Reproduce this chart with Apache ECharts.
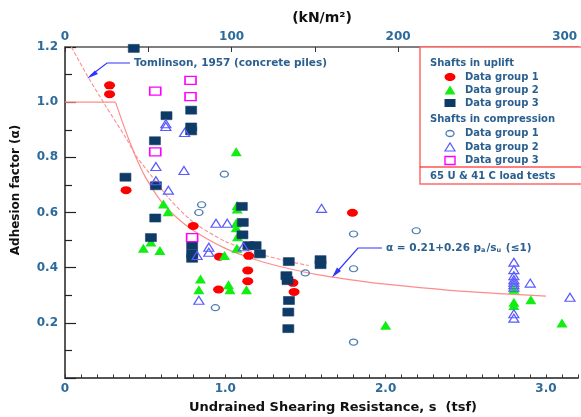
<!DOCTYPE html>
<html>
<head>
<meta charset="utf-8">
<script src="https://cdn.jsdelivr.net/npm/echarts@6/dist/echarts.min.js"></script>
<style>html,body{margin:0;padding:0;background:#fff}#c{width:581px;height:417px}</style>
</head>
<body>
<div id="c"></div>
<script>
// ---- data (s in tsf, alpha) ----
const upliftG1 = [[0.278,1.061],[0.278,1.029],[0.381,0.681],[0.80,0.551],[0.963,0.44],[1.146,0.443],[1.14,0.39],[1.14,0.351],[0.958,0.321],[1.422,0.345],[1.429,0.312],[1.793,0.599]];
const upliftG2 = [[1.068,0.82],[0.614,0.631],[0.643,0.603],[0.536,0.493],[0.489,0.47],[0.592,0.462],[1.074,0.625],[1.074,0.613],[1.068,0.562],[1.068,0.545],[1.076,0.512],[1.072,0.47],[0.995,0.444],[0.845,0.359],[0.835,0.32],[1.02,0.338],[1.029,0.32],[1.132,0.32],[2.8,0.322],[2.8,0.275],[2.8,0.263],[2.906,0.284],[2.0,0.191],[3.10,0.199]];
const upliftG3 = [[0.429,1.195],[0.633,0.951],[0.787,0.971],[0.787,0.91],[0.787,0.896],[0.561,0.86],[0.377,0.728],[0.567,0.697],[0.563,0.58],[0.536,0.509],[0.793,0.48],[0.793,0.45],[0.793,0.434],[1.103,0.622],[1.109,0.564],[1.107,0.519],[1.144,0.48],[1.189,0.48],[1.216,0.45],[1.396,0.422],[1.594,0.429],[1.594,0.411],[1.381,0.371],[1.388,0.353],[1.397,0.281],[1.393,0.239],[1.393,0.179]];
const compG1 = [[0.994,0.739],[0.852,0.628],[0.835,0.60],[0.938,0.255],[1.499,0.381],[1.80,0.522],[2.191,0.534],[1.80,0.396],[1.80,0.13]];
const compG2 = [[0.629,0.922],[0.629,0.912],[0.746,0.89],[0.567,0.767],[0.742,0.752],[0.567,0.715],[0.645,0.681],[0.942,0.561],[1.012,0.561],[0.897,0.474],[0.897,0.456],[0.824,0.444],[1.113,0.476],[0.835,0.282],[1.60,0.615],[2.8,0.42],[2.8,0.393],[2.8,0.371],[2.8,0.356],[2.8,0.347],[2.8,0.338],[2.8,0.329],[2.8,0.233],[2.8,0.217],[2.902,0.344],[3.15,0.293]];
const compG3 = [[0.783,1.079],[0.563,1.04],[0.783,1.02],[0.563,0.82],[0.793,0.509]];
// curves
const equationCap = [[0,1.0],[0.315,1.0]];
const equationCurve = [[0.315,1.0],[0.36,0.925],[0.40,0.862],[0.45,0.79],[0.5,0.73],[0.6,0.64],[0.7,0.58],[0.8,0.535],[1.0,0.47],[1.2,0.427],[1.4,0.396],[1.6,0.372],[1.8,0.355],[2.0,0.34],[2.4,0.318],[2.8,0.303],[3.0,0.297]];
const tomlinsonCurve = [[0.04,1.2],[0.14,1.095],[0.25,0.99],[0.38,0.87],[0.45,0.8],[0.53,0.74],[0.65,0.65],[0.8,0.565],[1.0,0.495],[1.2,0.452],[1.4,0.422],[1.52,0.408]];
const bottomTicks = {min:0, max:3.2, step:0.1};
const topTicks = {min:0, max:308, step:50};
const yTicks = {min:0, max:1.2, step:0.2};
const legendItems = ['Data group 1','Data group 2','Data group 3'];

const LBL = '#2b6a9b';
const TXT = '#2a5f8f';
const FONT = 'DejaVu Sans';

const chart = echarts.init(document.getElementById('c'), null, {renderer:'canvas'});

function scatter(name, data, symbol, size, style){
  return {type:'scatter', name, data, symbol, symbolSize:size, itemStyle:Object.assign({opacity:1}, style), z:5, silent:true};
}

const legendX = 450, legendTextX = 465;
function legendMarker(kind, y){
  if(kind==='c1') return {type:'ellipse', shape:{cx:legendX, cy:y, rx:5.5, ry:4}, style:{fill:'#ff0000'}};
  if(kind==='t1') return {type:'polygon', shape:{points:[[legendX-5.5,y+4.5],[legendX+5.5,y+4.5],[legendX,y-4.5]]}, style:{fill:'#11ee11'}};
  if(kind==='s1') return {type:'rect', shape:{x:legendX-5.5, y:y-4, width:11, height:8}, style:{fill:'#0e3a66'}};
  if(kind==='c2') return {type:'ellipse', shape:{cx:legendX, cy:y, rx:4, ry:3}, style:{fill:'none', stroke:'#4c7faf', lineWidth:1.3}};
  if(kind==='t2') return {type:'polygon', shape:{points:[[legendX-5,y+4],[legendX+5,y+4],[legendX,y-4]]}, style:{fill:'none', stroke:'#5a5aff', lineWidth:1.2}};
  return {type:'rect', shape:{x:legendX-5, y:y-4, width:10, height:8}, style:{fill:'none', stroke:'#ff00ff', lineWidth:1.4}};
}
function t(text, x, y, opts){
  return Object.assign({type:'text', x, y, z:20, style:Object.assign({text, fill:TXT, fontSize:10, fontWeight:'bold', fontFamily:FONT, align:'left', verticalAlign:'middle'}, opts||{})});
}

const graphics = [
  {type:'rect', shape:{x:420, y:47, width:170, height:137}, style:{fill:'#fff', stroke:'#ff6a6a', lineWidth:1.5}, z:15},
  {type:'line', shape:{x1:420, y1:167, x2:590, y2:167}, style:{stroke:'#ff0000', lineWidth:1.2}, z:16},
  t('Shafts in uplift', 430, 63),
  t(legendItems[0], legendTextX, 77), t(legendItems[1], legendTextX, 90), t(legendItems[2], legendTextX, 103),
  t('Shafts in compression', 430, 119),
  t(legendItems[0], legendTextX, 133.5), t(legendItems[1], legendTextX, 147), t(legendItems[2], legendTextX, 160.5),
  t('65 U & 41 C load tests', 430, 176),
  Object.assign(legendMarker('c1',77),{z:20}), Object.assign(legendMarker('t1',90),{z:20}), Object.assign(legendMarker('s1',103),{z:20}),
  Object.assign(legendMarker('c2',133.5),{z:20}), Object.assign(legendMarker('t2',147),{z:20}), Object.assign(legendMarker('s2',160.5),{z:20}),
  // annotations
  t('Tomlinson, 1957 (concrete piles)', 134, 63, {fontSize:10.5}),
  {type:'polyline', shape:{points:[[130,63],[107,63],[90,76]]}, style:{stroke:'#3333ff', lineWidth:1.2, fill:'none'}, z:12},
  {type:'polygon', shape:{points:[[87,78.5],[95,70.5],[98,74]]}, style:{fill:'#3333ff'}, z:12},
  {type:'text', x:386, y:248, z:20, style:{text:'{n|α = 0.21+0.26 p}{s|a}{n|/s}{s|u}{n| (≤1)}', align:'left', verticalAlign:'middle',
     rich:{n:{fill:TXT, fontSize:10.5, fontWeight:'bold', fontFamily:FONT}, s:{fill:TXT, fontSize:6.5, fontWeight:'bold', fontFamily:FONT, padding:[5,1,0,0]}}}},
  {type:'polyline', shape:{points:[[382,248],[358,248],[335,274]]}, style:{stroke:'#3333ff', lineWidth:1.2, fill:'none'}, z:12},
  {type:'polygon', shape:{points:[[332,277.5],[337,267.5],[341,271]]}, style:{fill:'#3333ff'}, z:12},
  // titles
  {type:'text', x:322, y:18, z:20, style:{text:'(kN/m²)', fill:'#111', fontSize:14, fontWeight:'bold', fontFamily:FONT, align:'center', verticalAlign:'middle'}},
  {type:'text', x:333, y:408, z:20, style:{text:'Undrained Shearing Resistance, s  (tsf)', fill:'#111', fontSize:13, fontWeight:'bold', fontFamily:FONT, align:'center', verticalAlign:'middle'}},
  {type:'text', x:16, y:190, rotation:Math.PI/2, z:20, style:{text:'Adhesion factor (α)', fill:'#111', fontSize:12, fontWeight:'bold', fontFamily:FONT, align:'center', verticalAlign:'middle'}}
];

const option = {
  animation:false,
  backgroundColor:'#fff',
  grid:{left:65, right:-1, top:47, bottom:39, containLabel:false},
  xAxis:[
    {type:'value', position:'bottom', min:bottomTicks.min, max:bottomTicks.max, interval:bottomTicks.step,
     axisLine:{show:true, onZero:false, lineStyle:{color:'#555', width:2}},
     axisTick:{show:true, inside:true, length:3.5, lineStyle:{color:'#333', width:1}},
     axisLabel:{margin:5, color:LBL, fontSize:12, fontWeight:'bold', fontFamily:FONT,
       formatter:v=>{const r=Math.round(v); if(Math.abs(v-r)>1e-6||r>3) return ''; return r===0?'0':r.toFixed(1);}},
     splitLine:{show:false}},
    {type:'value', position:'top', min:topTicks.min, max:topTicks.max, interval:topTicks.step,
     axisLine:{show:true, onZero:false, lineStyle:{color:'#555', width:1.5}},
     axisTick:{show:true, inside:true, length:5, lineStyle:{color:'#333', width:1}},
     axisLabel:{margin:4, color:LBL, fontSize:12, fontWeight:'bold', fontFamily:FONT,
       formatter:v=>(v%100===0 && v<=300)?String(v):''},
     splitLine:{show:false}}
  ],
  yAxis:{type:'value', min:yTicks.min, max:yTicks.max, interval:yTicks.step,
     axisLine:{show:true, onZero:false, lineStyle:{color:'#222', width:1.5}},
     axisTick:{show:true, inside:true, length:11, lineStyle:{color:'#222', width:1.2}},
     minorTick:{show:true, splitNumber:2, length:7, lineStyle:{color:'#222', width:1.2}},
     axisLabel:{margin:7, color:LBL, fontSize:12, fontWeight:'bold', fontFamily:FONT,
       formatter:v=>v===0?'':v.toFixed(1)},
     splitLine:{show:false}},
  series:[
    {type:'line', data:equationCap, xAxisIndex:0, symbol:'none', lineStyle:{color:'#ff8c8c', width:1.2}, z:2, silent:true},
    {type:'line', data:equationCurve, xAxisIndex:0, smooth:0.25, symbol:'none', lineStyle:{color:'#ff8c8c', width:1.2}, z:2, silent:true},
    {type:'line', data:tomlinsonCurve, xAxisIndex:0, smooth:0.25, symbol:'none', lineStyle:{color:'#ff8c8c', width:1.1, type:[4,2]}, z:2, silent:true},
    scatter('U1', upliftG1, 'circle', [11,8], {color:'#ff0000'}),
    scatter('U2', upliftG2, 'triangle', [11,9], {color:'#11ee11'}),
    scatter('U3', upliftG3, 'rect', [11,8], {color:'#0e3a66', borderColor:'#163f6b', borderWidth:0.6}),
    scatter('C1', compG1, 'circle', [8,6], {color:'rgba(0,0,0,0)', borderColor:'#4c7faf', borderWidth:1.3}),
    scatter('C2', compG2, 'triangle', [10,8], {color:'rgba(0,0,0,0)', borderColor:'#5a5aff', borderWidth:1.2}),
    scatter('C3', compG3, 'rect', [11,8], {color:'rgba(0,0,0,0)', borderColor:'#ff00ff', borderWidth:1.4})
  ],
  graphic:graphics
};
chart.setOption(option);
</script>
</body>
</html>
